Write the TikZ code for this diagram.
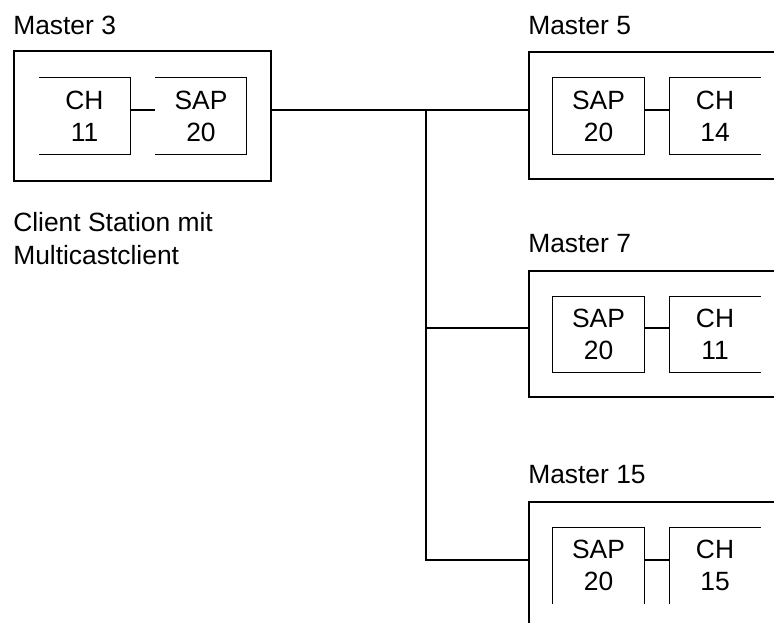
\documentclass[tikz,border=0pt]{standalone}
\usepackage{fontspec}
\setmainfont{Liberation Sans}
\usetikzlibrary{calc}
\begin{document}
\begin{tikzpicture}[x=0.75pt,y=-0.75pt,
  outerbox/.style={draw, line width=1.3pt, inner sep=0pt, rectangle},
  inbox/.style={inner sep=0pt, minimum width=68pt, minimum height=57pt, align=center,
    font=\fontsize{19.8}{24}\selectfont},
  lbl/.style={inner sep=0pt, anchor=base west, font=\fontsize{19.8}{24}\selectfont},
  wire/.style={line width=1.5pt},
  rim/.style={line width=0.75pt}]
\clip (0,0) rectangle (774,623);
% labels
\node[lbl] (t3) at (13,35) {Master 3};
\node[lbl] (t5) at (528,35) {Master 5};
\node[lbl] (t7) at (528,253) {Master 7};
\node[lbl] (t15) at (528,483) {Master 15};
\node[lbl, align=left, font=\fontsize{19.8}{24.75}\selectfont] (client) at (13,265) {Client Station mit\\Multicastclient};
% outer boxes
\node[outerbox, minimum width=192.75pt, minimum height=97.5pt] (m3) at (142.5,116) {};
\node[outerbox, minimum width=218.25pt, minimum height=95.25pt] (m5) at (674.5,115.5) {};
\node[outerbox, minimum width=218.25pt, minimum height=94.5pt] (m7) at (674.5,334) {};
\node[outerbox, minimum width=218.25pt, minimum height=120pt] (m15) at (674.5,582) {};
% inner boxes
\node[inbox] (ch3) at (84.5,116) {CH\\11};
\node[inbox] (sap3) at (201,116) {SAP\\20};
\node[inbox] (sap5) at (598.5,116) {SAP\\20};
\node[inbox] (ch5) at (715,116) {CH\\14};
\node[inbox] (sap7) at (598.5,334.5) {SAP\\20};
\node[inbox] (ch7) at (715,334.5) {CH\\11};
\node[inbox] (sap15) at (598.5,565.5) {SAP\\20};
\node[inbox] (ch15) at (715,565.5) {CH\\15};
% inner box rims
\draw[rim] (ch3.north west) -- (ch3.north east) -- (ch3.south east) -- (ch3.south west);
\draw[rim] (sap3.north west) -- (sap3.north east) -- (sap3.south east) -- (sap3.south west);
\draw[rim] (sap5.north west) rectangle (sap5.south east);
\draw[rim] (ch5.north east) -- (ch5.north west) -- (ch5.south west) -- (ch5.south east);
\draw[rim] (sap7.north west) rectangle (sap7.south east);
\draw[rim] (ch7.north east) -- (ch7.north west) -- (ch7.south west) -- (ch7.south east);
\draw[rim] (sap15.south west) -- (sap15.north west) -- (sap15.north east) -- (sap15.south east);
\draw[rim] (ch15.north east) -- (ch15.north west) -- (ch15.south west);
% connectors between inner boxes
\draw[wire] ($(ch3.east)+(0,-6)$) -- ($(sap3.west)+(0,-6)$);
\draw[wire] ($(sap5.east)+(0,-6)$) -- ($(ch5.west)+(0,-6)$);
\draw[wire] ($(sap7.east)+(0,-6)$) -- ($(ch7.west)+(0,-6)$);
\draw[wire] ($(sap15.east)+(0,-5.5)$) -- ($(ch15.west)+(0,-5.5)$);
% trunk
\coordinate (j1) at (426,110);
\coordinate (j2) at (426,328);
\coordinate (j3) at (426,560);
\draw[wire] (m3.east |- j1) -- (m5.west |- j1);
\draw[wire] (j1) -- (j3) -- (m15.west |- j3);
\draw[wire] (j2) -- (m7.west |- j2);
\end{tikzpicture}
\end{document}
